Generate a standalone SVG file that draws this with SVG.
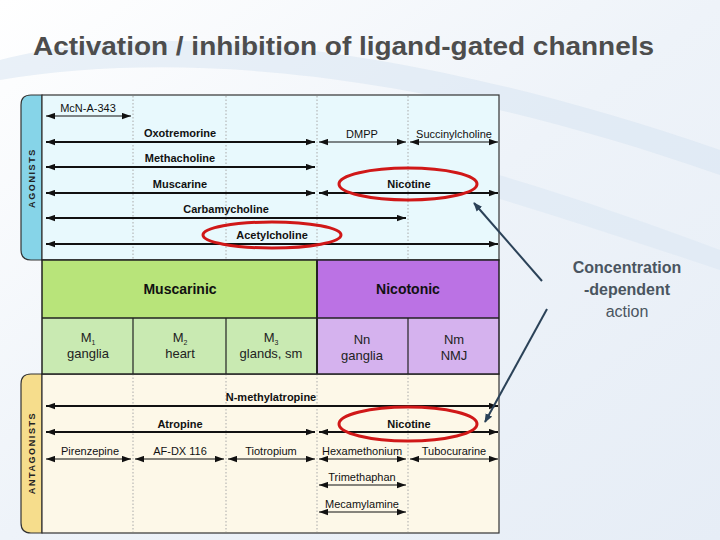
<svg xmlns="http://www.w3.org/2000/svg" width="720" height="540" viewBox="0 0 720 540">
<defs>
<linearGradient id="bg" x1="0" y1="0" x2="1" y2="1">
<stop offset="0" stop-color="#ffffff"/>
<stop offset="0.5" stop-color="#eef3f9"/>
<stop offset="1" stop-color="#e6edf6"/>
</linearGradient>
<marker id="ah" viewBox="0 0 10 7" refX="10" refY="3.5" markerWidth="9" markerHeight="7" markerUnits="userSpaceOnUse" orient="auto-start-reverse">
<path d="M0,0 L10,3.5 L0,7 z" fill="#111"/>
</marker>
<marker id="bh" viewBox="0 0 10 8" refX="9" refY="4" markerWidth="9" markerHeight="8" markerUnits="userSpaceOnUse" orient="auto">
<path d="M0,0 L10,4 L0,8 z" fill="#2b4258"/>
</marker>
<style>
.t{font-family:"Liberation Sans",Arial,sans-serif;fill:#111;text-anchor:middle}
.b{font-weight:bold;font-size:11px}
.n{font-size:11px}
.thick{stroke:#111;stroke-width:2.2;fill:none}
.thin{stroke:#111;stroke-width:1.2;fill:none}
.dot{stroke:#aaa;stroke-width:1;stroke-dasharray:1.5,2}
.ell{fill:none;stroke:#d01818;stroke-width:3}
.tab{font-family:"Liberation Sans",Arial,sans-serif;font-weight:bold;font-size:9px;letter-spacing:1.6px;fill:#222;text-anchor:middle}
.sub{font-family:"Liberation Sans",Arial,sans-serif;font-size:13px;fill:#222;text-anchor:middle}
</style>
</defs>
<rect width="720" height="540" fill="url(#bg)"/>
<path d="M0,60 C150,20 400,40 720,150 L720,175 C420,70 180,50 0,80 z" fill="#d6e4f2" opacity="0.5"/>
<path d="M120,100 C350,120 560,190 720,250 L720,270 C540,210 330,140 120,110 z" fill="#dce8f4" opacity="0.6"/>
<g id="title">
<text x="33" y="55" font-family="Liberation Sans,Arial,sans-serif" font-weight="bold" font-size="25" fill="#4d4d4d" textLength="621" lengthAdjust="spacingAndGlyphs">Activation / inhibition of ligand-gated channels</text>
</g>
<g id="agonists">
<path d="M42,95 L31,95 Q21,95 21,105 L21,250 Q21,260 31,260 L42,260 z" fill="#86d4e8" stroke="#333" stroke-width="1.2"/>
<rect x="42" y="95" width="457" height="165" fill="#e8f9fd" stroke="#333" stroke-width="1.2"/>
<text class="tab" transform="translate(34.5,178) rotate(-90)">AGONISTS</text>
</g>
<g id="antagonists">
<path d="M42,374 L31,374 Q21,374 21,384 L21,523 Q21,533 31,533 L42,533 z" fill="#f6dd8c" stroke="#333" stroke-width="1.2"/>
<rect x="42" y="374" width="457" height="159" fill="#fdf8e8" stroke="#333" stroke-width="1.2"/>
<text class="tab" transform="translate(34.5,453) rotate(-90)">ANTAGONISTS</text>
</g>
<g id="dividers">
<line class="dot" x1="133" y1="96" x2="133" y2="260"/>
<line class="dot" x1="226" y1="96" x2="226" y2="260"/>
<line class="dot" x1="317" y1="96" x2="317" y2="260"/>
<line class="dot" x1="408" y1="96" x2="408" y2="260"/>
<line class="dot" x1="133" y1="374" x2="133" y2="532"/>
<line class="dot" x1="226" y1="374" x2="226" y2="532"/>
<line class="dot" x1="317" y1="374" x2="317" y2="532"/>
<line class="dot" x1="408" y1="374" x2="408" y2="532"/>
</g>
<g id="receptors">
<rect x="42" y="260" width="275" height="58" fill="#b8e47a"/>
<rect x="317" y="260" width="182" height="58" fill="#bb72e4"/>
<rect x="42" y="318" width="275" height="56" fill="#c9eab2"/>
<rect x="317" y="318" width="182" height="56" fill="#d5b2ee"/>
<rect x="42" y="260" width="457" height="114" fill="none" stroke="#222" stroke-width="1.5"/>
<line x1="42" y1="318" x2="499" y2="318" stroke="#222" stroke-width="1.5"/>
<line x1="317" y1="260" x2="317" y2="374" stroke="#222" stroke-width="2"/>
<line x1="133" y1="318" x2="133" y2="374" stroke="#222" stroke-width="1.2"/>
<line x1="226" y1="318" x2="226" y2="374" stroke="#222" stroke-width="1.2"/>
<line x1="408" y1="318" x2="408" y2="374" stroke="#222" stroke-width="1.2"/>
<text class="t" x="180" y="294" font-size="14" font-weight="bold">Muscarinic</text>
<text class="t" x="408" y="294" font-size="14" font-weight="bold">Nicotonic</text>
<text class="sub" x="88" y="342">M<tspan font-size="7" dy="3">1</tspan></text>
<text class="sub" x="88" y="358">ganglia</text>
<text class="sub" x="180" y="342">M<tspan font-size="7" dy="3">2</tspan></text>
<text class="sub" x="180" y="358">heart</text>
<text class="sub" x="271" y="342">M<tspan font-size="7" dy="3">3</tspan></text>
<text class="sub" x="271" y="358">glands, sm</text>
<text class="sub" x="362" y="344">Nn</text>
<text class="sub" x="362" y="360">ganglia</text>
<text class="sub" x="454" y="344">Nm</text>
<text class="sub" x="454" y="360">NMJ</text>
</g>
<g id="connectors">
<line class="thin" x1="46" y1="116" x2="131" y2="116" marker-start="url(#ah)" marker-end="url(#ah)"/>
<line class="thick" x1="46" y1="142" x2="315" y2="142" marker-start="url(#ah)" marker-end="url(#ah)"/>
<line class="thin" x1="319" y1="142" x2="406" y2="142" marker-start="url(#ah)" marker-end="url(#ah)"/>
<line class="thin" x1="410" y1="142" x2="498" y2="142" marker-start="url(#ah)" marker-end="url(#ah)"/>
<line class="thick" x1="46" y1="167" x2="315" y2="167" marker-start="url(#ah)" marker-end="url(#ah)"/>
<line class="thick" x1="46" y1="193" x2="315" y2="193" marker-start="url(#ah)" marker-end="url(#ah)"/>
<line class="thick" x1="319" y1="193" x2="498" y2="193" marker-start="url(#ah)" marker-end="url(#ah)"/>
<line class="thick" x1="46" y1="218" x2="406" y2="218" marker-start="url(#ah)" marker-end="url(#ah)"/>
<line class="thick" x1="46" y1="244" x2="498" y2="244" marker-start="url(#ah)" marker-end="url(#ah)"/>
<line class="thick" x1="46" y1="406" x2="498" y2="406" marker-start="url(#ah)" marker-end="url(#ah)"/>
<line class="thick" x1="46" y1="432" x2="315" y2="432" marker-start="url(#ah)" marker-end="url(#ah)"/>
<line class="thick" x1="319" y1="432" x2="498" y2="432" marker-start="url(#ah)" marker-end="url(#ah)"/>
<line class="thin" x1="46" y1="459" x2="131" y2="459" marker-start="url(#ah)" marker-end="url(#ah)"/>
<line class="thin" x1="135" y1="459" x2="224" y2="459" marker-start="url(#ah)" marker-end="url(#ah)"/>
<line class="thin" x1="228" y1="459" x2="315" y2="459" marker-start="url(#ah)" marker-end="url(#ah)"/>
<line class="thin" x1="319" y1="459" x2="406" y2="459" marker-start="url(#ah)" marker-end="url(#ah)"/>
<line class="thin" x1="410" y1="459" x2="498" y2="459" marker-start="url(#ah)" marker-end="url(#ah)"/>
<line class="thin" x1="319" y1="485" x2="406" y2="485" marker-start="url(#ah)" marker-end="url(#ah)"/>
<line class="thin" x1="319" y1="512" x2="406" y2="512" marker-start="url(#ah)" marker-end="url(#ah)"/>
<line x1="542" y1="281" x2="474" y2="203" stroke="#2b4258" stroke-width="2" marker-end="url(#bh)"/>
<line x1="547" y1="309" x2="485" y2="422" stroke="#2b4258" stroke-width="2" marker-end="url(#bh)"/>
</g>
<g id="labels">
<text class="t n" x="88" y="112">McN-A-343</text>
<text class="t b" x="180" y="137">Oxotremorine</text>
<text class="t n" x="362" y="138">DMPP</text>
<text class="t n" x="454" y="138">Succinylcholine</text>
<text class="t b" x="180" y="162">Methacholine</text>
<text class="t b" x="180" y="188">Muscarine</text>
<text class="t b" x="409" y="188">Nicotine</text>
<text class="t b" x="226" y="213">Carbamycholine</text>
<text class="t b" x="272" y="239">Acetylcholine</text>
<text class="t b" x="271" y="401">N-methylatropine</text>
<text class="t b" x="180" y="428">Atropine</text>
<text class="t b" x="409" y="428">Nicotine</text>
<text class="t n" x="90" y="455">Pirenzepine</text>
<text class="t n" x="180" y="455">AF-DX 116</text>
<text class="t n" x="271" y="455">Tiotropium</text>
<text class="t n" x="362" y="455">Hexamethonium</text>
<text class="t n" x="454" y="455">Tubocurarine</text>
<text class="t n" x="362" y="481">Trimethaphan</text>
<text class="t n" x="362" y="508">Mecamylamine</text>
</g>
<g id="highlights">
<ellipse class="ell" cx="408" cy="184" rx="69" ry="16"/>
<ellipse class="ell" cx="272" cy="235" rx="69" ry="13"/>
<ellipse class="ell" cx="408" cy="424" rx="69" ry="17"/>
</g>
<g id="note">
<text x="627" y="273" font-family="Liberation Sans,Arial,sans-serif" font-size="16" font-weight="bold" fill="#4a5560" text-anchor="middle">Concentration</text>
<text x="627" y="295" font-family="Liberation Sans,Arial,sans-serif" font-size="16" font-weight="bold" fill="#4a5560" text-anchor="middle">-dependent</text>
<text x="627" y="317" font-family="Liberation Sans,Arial,sans-serif" font-size="16" fill="#4a5560" text-anchor="middle">action</text>
</g>
</svg>
